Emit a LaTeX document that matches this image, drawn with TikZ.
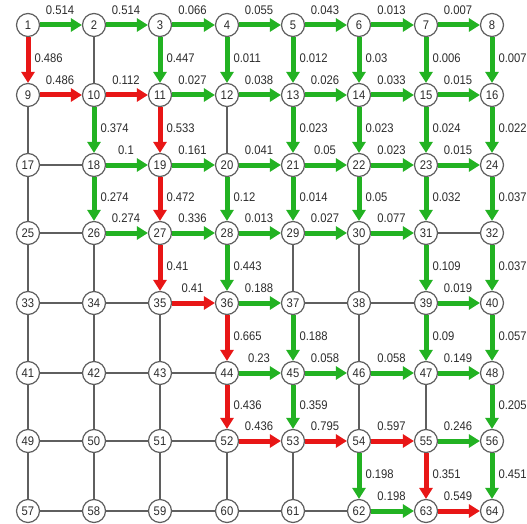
\documentclass[tikz,border=0pt]{standalone}
\usepackage{fontspec}
\setmainfont{Liberation Sans}[FakeStretch=0.9]
\usetikzlibrary{arrows.meta}
\definecolor{ggreen}{RGB}{34,178,34}
\definecolor{rred}{RGB}{232,22,22}
\definecolor{lgray}{RGB}{95,95,95}
\definecolor{tgray}{RGB}{45,45,45}
\begin{document}
\begin{tikzpicture}[x=1pt,y=-1pt,
  font=\fontsize{12.5}{14}\selectfont,
  vtx/.style={circle,draw=lgray,line width=1.2pt,fill=white,minimum size=23pt,inner sep=0pt,text=tgray},
  plain/.style={draw=lgray,line width=1.2pt},
  garrow/.style={draw=ggreen,line width=5pt,-{Triangle[length=11pt,width=13pt]}},
  rarrow/.style={draw=rred,line width=5pt,-{Triangle[length=11pt,width=13pt]}},
  hlab/.style={above=8pt,inner sep=0pt,xshift=-1pt,text=tgray},
  vlab/.style={right=4pt,inner sep=0pt,yshift=2pt,text=tgray}]
\useasboundingbox[fill=white] (0,0) rectangle (527,524);
\foreach \r [count=\i from 0] in {25,95,165,233,303,373,441,511}{
  \foreach \c [count=\j from 1] in {28,94,160,227,293,359,426,492}{
    \pgfmathtruncatemacro\k{\i*8+\j}
    \node[vtx] (n\k) at (\c,\r) {\k};
  }
}
\foreach \a/\b in {2/10,9/17,12/20,17/18,17/25,25/26,31/32,25/33,26/34,29/37,30/38,33/34,34/35,37/38,38/39,33/41,34/42,35/43,38/46,41/42,42/43,43/44,41/49,42/50,43/51,46/54,47/55,49/50,50/51,51/52,49/57,50/58,51/59,52/60,53/61,57/58,58/59,59/60,60/61,61/62}
  \draw[plain] (n\a) -- (n\b);
\foreach \a/\b/\l in {1/2/0.514,2/3/0.514,3/4/0.066,4/5/0.055,5/6/0.043,6/7/0.013,7/8/0.007,11/12/0.027,12/13/0.038,13/14/0.026,14/15/0.033,15/16/0.015,18/19/0.1,19/20/0.161,20/21/0.041,21/22/0.05,22/23/0.023,23/24/0.015,26/27/0.274,27/28/0.336,28/29/0.013,29/30/0.027,30/31/0.077,36/37/0.188,39/40/0.019,44/45/0.23,45/46/0.058,46/47/0.058,47/48/0.149,55/56/0.246,62/63/0.198}
  \draw[garrow] (n\a) -- node[hlab]{\l} (n\b);
\foreach \a/\b/\l in {9/10/0.486,10/11/0.112,35/36/0.41,52/53/0.436,53/54/0.795,54/55/0.597,63/64/0.549}
  \draw[rarrow] (n\a) -- node[hlab]{\l} (n\b);
\foreach \a/\b/\l in {3/11/0.447,4/12/0.011,5/13/0.012,6/14/0.03,7/15/0.006,8/16/0.007,10/18/0.374,13/21/0.023,14/22/0.023,15/23/0.024,16/24/0.022,18/26/0.274,20/28/0.12,21/29/0.014,22/30/0.05,23/31/0.032,24/32/0.037,28/36/0.443,31/39/0.109,32/40/0.037,37/45/0.188,39/47/0.09,40/48/0.057,45/53/0.359,48/56/0.205,54/62/0.198,56/64/0.451}
  \draw[garrow] (n\a) -- node[vlab]{\l} (n\b);
\foreach \a/\b/\l in {1/9/0.486,11/19/0.533,19/27/0.472,27/35/0.41,36/44/0.665,44/52/0.436,55/63/0.351}
  \draw[rarrow] (n\a) -- node[vlab]{\l} (n\b);
\end{tikzpicture}
\end{document}
